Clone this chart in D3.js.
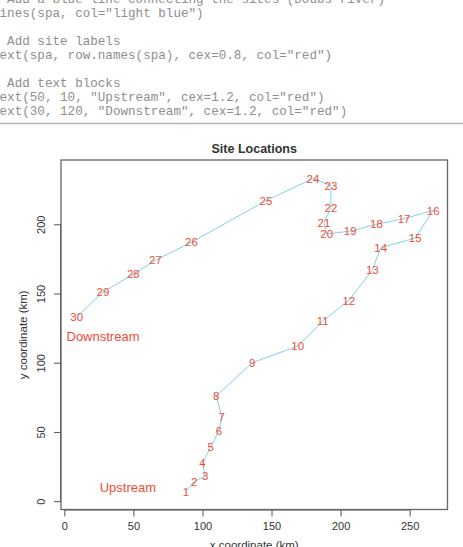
<!DOCTYPE html>
<html>
<head>
<meta charset="utf-8">
<script src="https://cdn.jsdelivr.net/npm/d3@7"></script>
<style>
  body { margin: 0; background: #fff; }
  svg { display: block; }
</style>
</head>
<body>
<div id="chart-container"></div>
<script>
// data (Doubs river sites, km)
const siteNames = d3.range(1, 31).map(String)
const siteX = [88, 94, 102, 100, 106, 112, 114, 110, 136, 169, 187, 206, 223, 229, 254,
  267, 246, 226, 207, 190, 188, 193, 193, 180, 146, 92, 66, 50, 28, 9]
const siteY = [7, 14, 18, 28, 39, 51, 61, 76, 100, 112, 130, 145, 167, 183, 190,
  210, 204, 200, 195, 193, 201, 212, 228, 233, 217, 187, 174, 164, 151, 133]
const xTicks = [0, 50, 100, 150, 200, 250]
const yTicks = [0, 50, 100, 150, 200]
const noteLabels = ['Upstream', 'Downstream']
const noteX = [46, 28]
const noteY = [10, 119]
const codeLines = [
  '# Add a blue line connecting the sites (Doubs river)',
  'lines(spa, col="light blue")',
  '',
  '# Add site labels',
  'text(spa, row.names(spa), cex=0.8, col="red")',
  '',
  '# Add text blocks',
  'text(50, 10, "Upstream", cex=1.2, col="red")',
  'text(30, 120, "Downstream", cex=1.2, col="red")'
]

// constants
const width = 463
const height = 547
const box = {left: 61, top: 160, right: 447.5, bottom: 509.5}
const red = '#f04d38'
const sans = 'Liberation Sans, Arial, Helvetica, sans-serif'

const svg = d3.select('#chart-container')
  .append('svg')
  .attr('width', width)
  .attr('height', height)
  .style('background', '#fff')

// code snippet above the plot (cropped at the edges, as in the source)
svg.append('g')
  .selectAll('text')
  .data(codeLines).enter()
  .append('text')
  .attr('x', -8)
  .attr('y', (d, i) => -1 + i * 14)
  .attr('dy', '0.35em')
  .attr('font-family', 'Liberation Mono, Courier New, monospace')
  .attr('font-size', '12.6px')
  .attr('fill', '#8e8e8e')
  .style('white-space', 'pre')
  .text(d => d)

svg.append('line')
  .attr('x1', 0).attr('x2', width)
  .attr('y1', 123.5).attr('y2', 123.5)
  .style('stroke', '#b4b4b4')
  .style('stroke-width', 1.5)

// scales (box edges in km, asp = 1 plot)
const xScale = d3.scaleLinear()
  .domain([-2.4, 277.4])
  .range([box.left, box.right])
const yScale = d3.scaleLinear()
  .domain([-6, 246.4])
  .range([box.bottom, box.top])

// axes
const xAxis = d3.axisBottom(xScale).tickValues(xTicks).tickSize(7).tickPadding(4)
const yAxis = d3.axisLeft(yScale).tickValues(yTicks).tickSize(7).tickPadding(5)

const xAxisG = svg.append('g')
  .attr('transform', `translate(0, ${box.bottom})`)
  .call(xAxis)
xAxisG.select('.domain')
  .attr('d', `M${xScale(0)},0.5H${xScale(250)}`)

const yAxisG = svg.append('g')
  .attr('transform', `translate(${box.left}, 0)`)
  .call(yAxis)
yAxisG.select('.domain')
  .attr('d', `M-0.5,${yScale(0)}V${yScale(200)}`)
yAxisG.selectAll('.tick text')
  .attr('transform', 'rotate(-90)')
  .attr('x', 0)
  .attr('y', -20)
  .attr('dy', '0.35em')
  .attr('text-anchor', 'middle')

svg.selectAll('.domain, .tick line')
  .style('stroke', '#555')
svg.selectAll('.tick text')
  .attr('font-family', sans)
  .attr('font-size', '11px')
  .attr('fill', '#333')
xAxisG.selectAll('.tick text').attr('dy', '0.9em')

// plot box
svg.append('rect')
  .attr('x', box.left)
  .attr('y', box.top)
  .attr('width', box.right - box.left)
  .attr('height', box.bottom - box.top)
  .attr('fill', 'none')
  .style('stroke', '#666')
  .style('stroke-width', 1.3)

// title and axis labels
svg.append('text')
  .attr('x', (box.left + box.right) / 2)
  .attr('y', 149)
  .attr('dy', '0.35em')
  .attr('text-anchor', 'middle')
  .attr('font-family', sans)
  .attr('font-weight', 'bold')
  .attr('font-size', '12.5px')
  .attr('fill', '#333')
  .text('Site Locations')

svg.append('text')
  .attr('x', (box.left + box.right) / 2)
  .attr('y', 545)
  .attr('dy', '0.35em')
  .attr('text-anchor', 'middle')
  .attr('font-family', sans)
  .attr('font-size', '11.5px')
  .attr('fill', '#333')
  .text('x coordinate (km)')

svg.append('text')
  .attr('transform', `translate(23, ${(box.top + box.bottom) / 2}) rotate(-90)`)
  .attr('dy', '0.35em')
  .attr('text-anchor', 'middle')
  .attr('font-family', sans)
  .attr('font-size', '11.5px')
  .attr('fill', '#333')
  .text('y coordinate (km)')

// river line
const river = d3.line()
  .x(i => xScale(siteX[i]))
  .y(i => yScale(siteY[i]))
svg.append('path')
  .attr('d', river(d3.range(siteX.length)))
  .attr('fill', 'none')
  .style('stroke', '#7fd3e4')
  .style('stroke-width', 1)

// site labels
svg.append('g')
  .selectAll('text')
  .data(siteNames).enter()
  .append('text')
  .attr('x', (d, i) => xScale(siteX[i]))
  .attr('y', (d, i) => yScale(siteY[i]))
  .attr('dy', '0.36em')
  .attr('text-anchor', 'middle')
  .attr('font-family', sans)
  .attr('font-size', '11.5px')
  .attr('fill', red)
  .text(d => d)

// text blocks
svg.append('g')
  .selectAll('text')
  .data(noteLabels).enter()
  .append('text')
  .attr('x', (d, i) => xScale(noteX[i]))
  .attr('y', (d, i) => yScale(noteY[i]))
  .attr('dy', '0.36em')
  .attr('text-anchor', 'middle')
  .attr('font-family', sans)
  .attr('font-size', '13px')
  .attr('fill', red)
  .text(d => d)
</script>
</body>
</html>
